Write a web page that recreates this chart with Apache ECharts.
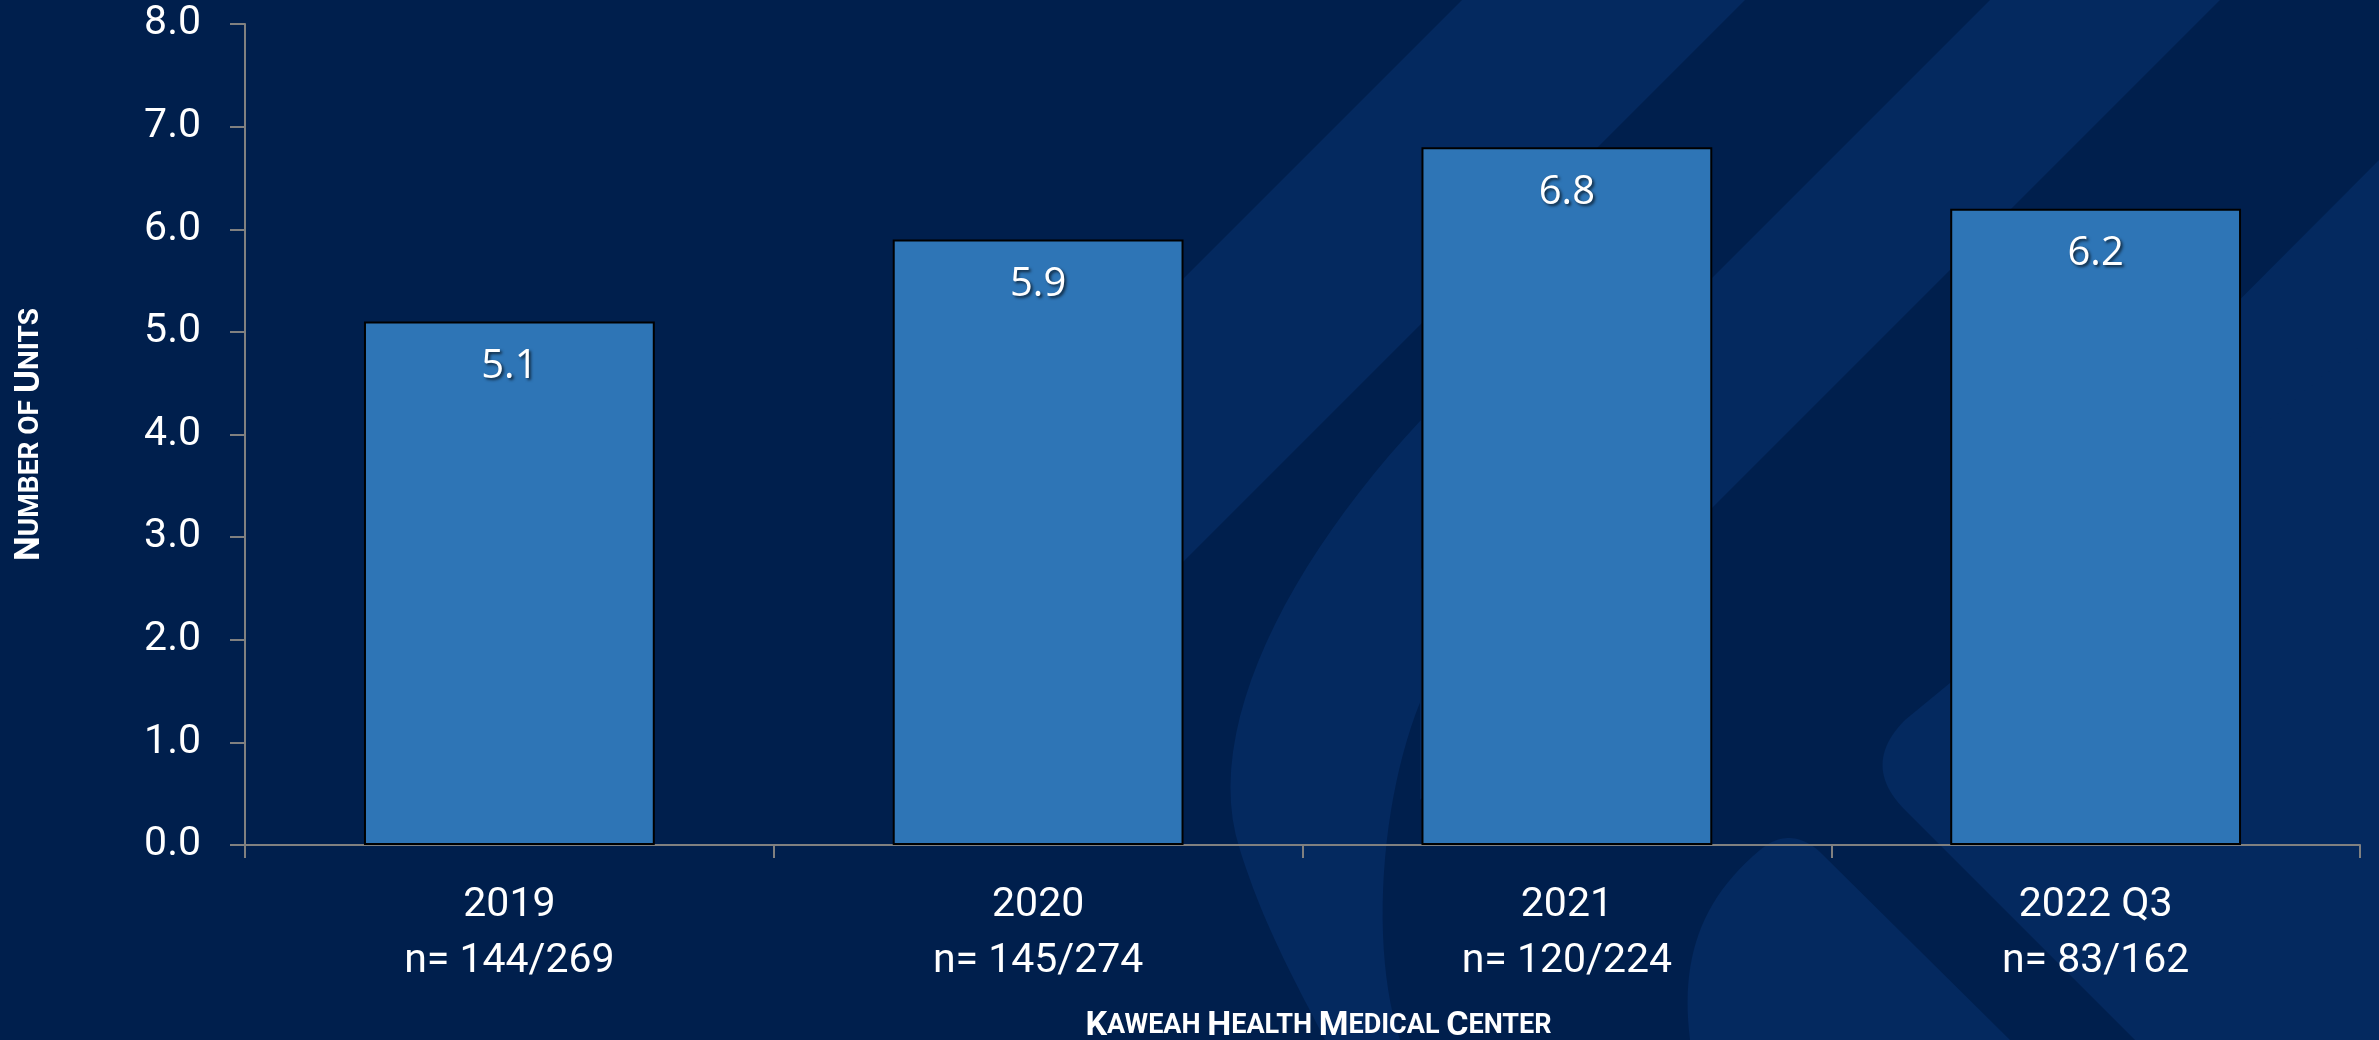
<!DOCTYPE html>
<html>
<head>
<meta charset="utf-8">
<script src="https://cdn.jsdelivr.net/npm/echarts@6/dist/echarts.min.js"></script>
<style>
html,body{margin:0;padding:0;background:#001f4d;}
#chart{width:2379px;height:1040px;}
</style>
</head>
<body>
<div id="chart"></div>
<script>
// ---- data ----
const categories = ['2019', '2020', '2021', '2022 Q3'];
const sampleSizes = ['n= 144/269', 'n= 145/274', 'n= 120/224', 'n= 83/162'];
const unitValues = [5.1, 5.9, 6.8, 6.2];
const yMin = 0;
const yMax = 8;
const yStep = 1;

// ---- styling ----
const BG = '#001f4d';
const LIGHT = '#04295f';
const BAR = '#2e75b6';
const AXIS = '#808080';

// helper: turn a list of segments into polygon points (decorative background only)
function outline(start, segs) {
  const pts = [start];
  let cur = start;
  segs.forEach(s => {
    if (s.length === 1) { pts.push(s[0]); cur = s[0]; return; }
    const n = 24;
    for (let i = 1; i <= n; i++) {
      const t = i / n, u = 1 - t;
      let x, y;
      if (s.length === 2) {
        x = u*u*cur[0] + 2*u*t*s[0][0] + t*t*s[1][0];
        y = u*u*cur[1] + 2*u*t*s[0][1] + t*t*s[1][1];
      } else {
        x = u*u*u*cur[0] + 3*u*u*t*s[0][0] + 3*u*t*t*s[1][0] + t*t*t*s[2][0];
        y = u*u*u*cur[1] + 3*u*u*t*s[0][1] + 3*u*t*t*s[1][1] + t*t*t*s[2][1];
      }
      pts.push([x, y]);
    }
    cur = s[s.length - 1];
  });
  return pts;
}

const chart = echarts.init(document.getElementById('chart'), null, {renderer: 'canvas'});

const bgPolys = [
  [[1462,0],[1745,0],[1150,595],[1150,312]],
  [[1990,0],[2220,0],[1420,800],[1420,570]],
  [[2379,160],[2379,380],[2050,710],[2050,490]],
  outline([1421,420], [[[1290,560],[1200,730],[1240,850]], [[1265,930],[1300,990],[1325,1040]], [[1400,1040]], [[1370,950],[1380,800],[1421,700]]]),
  outline([1690,1040], [[[1680,960],[1700,900],[1760,850]], [[1790,825],[1820,852]], [[2010,1040]]]),
  outline([2379,330], [[[1905,720]], [[1860,765],[1905,810]], [[2135,1040]], [[2379,1040]]])
];
const bgShapes = bgPolys.map(p => ({type: 'polygon', z: -10, silent: true, shape: {points: p}, style: {fill: LIGHT}}));

const option = {
  backgroundColor: BG,
  animation: false,
  graphic: bgShapes,
  grid: {left: 245, right: 19, top: 24, bottom: 195, containLabel: false, outerBoundsMode: 'none'},
  xAxis: {
    type: 'category',
    data: categories,
    boundaryGap: true,
    axisLine: {show: true, lineStyle: {color: AXIS, width: 2}},
    axisTick: {show: true, length: 13, alignWithLabel: false, lineStyle: {color: AXIS, width: 2}},
    axisLabel: {
      color: '#ffffff',
      fontFamily: 'Roboto',
      fontSize: 41,
      lineHeight: 56,
      margin: 33,
      interval: 0,
      formatter: (v, i) => v + '\n' + sampleSizes[i]
    },
    name: '{big|K}{small|AWEAH }{big|H}{small|EALTH }{big|M}{small|EDICAL }{big|C}{small|ENTER}',
    nameLocation: 'middle',
    nameGap: 164,
    nameTextStyle: {
      padding: [0, 0, 0, 32],
      rich: {
        big: {fontFamily: 'Roboto', fontWeight: 'bold', fontSize: 34, color: '#ffffff'},
        small: {fontFamily: 'Roboto', fontWeight: 'bold', fontSize: 27, color: '#ffffff'}
      }
    }
  },
  yAxis: {
    type: 'value',
    min: yMin,
    max: yMax,
    interval: yStep,
    axisLine: {show: true, lineStyle: {color: AXIS, width: 2}},
    axisTick: {show: true, length: 15, lineStyle: {color: AXIS, width: 2}},
    splitLine: {show: false},
    axisLabel: {
      color: '#ffffff',
      fontFamily: 'Roboto',
      fontSize: 41,
      margin: 44,
      formatter: v => v.toFixed(1)
    },
    name: '{big|N}{small|UMBER OF }{big|U}{small|NITS}',
    nameLocation: 'middle',
    nameRotate: 90,
    nameGap: 197,
    nameTextStyle: {
      rich: {
        big: {fontFamily: 'Roboto', fontWeight: 'bold', fontSize: 35, color: '#ffffff'},
        small: {fontFamily: 'Roboto', fontWeight: 'bold', fontSize: 28, color: '#ffffff'}
      }
    }
  },
  series: [{
    type: 'bar',
    data: unitValues,
    barWidth: '55%',
    itemStyle: {color: BAR, borderColor: '#000000', borderWidth: 2},
    label: {
      show: true,
      position: 'insideTop',
      distance: 25,
      color: '#ffffff',
      fontFamily: 'Open Sans',
      fontSize: 40,
      formatter: p => p.value.toFixed(1),
      textShadowColor: 'rgba(0,0,0,0.65)',
      textShadowBlur: 3,
      textShadowOffsetX: 2,
      textShadowOffsetY: 2
    }
  }]
};
chart.setOption(option);
</script>
</body>
</html>
